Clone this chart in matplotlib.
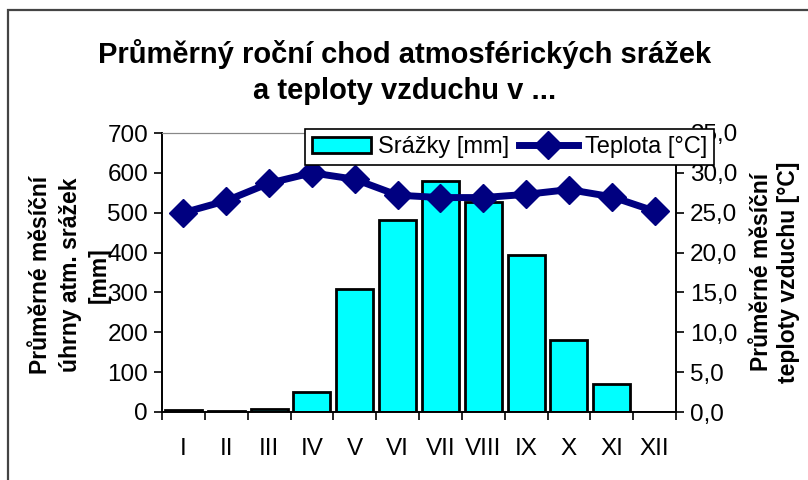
import matplotlib.pyplot as plt
from matplotlib.patches import Rectangle
from matplotlib.lines import Line2D
from matplotlib.ticker import FuncFormatter, MultipleLocator

months = ["I", "II", "III", "IV", "V", "VI", "VII", "VIII", "IX", "X", "XI", "XII"]
srazky = [5, 3, 7, 51, 308, 482, 580, 528, 394, 180, 69, 1]
teplota = [25.0, 26.5, 28.7, 30.0, 29.2, 27.2, 26.9, 26.9, 27.3, 27.9, 27.0, 25.2]

title = "Průměrný roční chod atmosférických srážek\na teploty vzduchu v ..."
left_label = "Průměrné měsíční\núhrny atm. srážek\n[mm]"
right_label = "Průměrné měsíční\nteploty vzduchu [°C]"

plt.rcParams["font.family"] = ["Liberation Sans", "DejaVu Sans"]

W, H = 808, 480
fig = plt.figure(figsize=(W / 100, H / 100), dpi=100)

# outer chart frame (only left/top edges visible in the crop)
fig.patches.append(Rectangle((8 / W, -0.1), 1.2, 1 - 10 / H + 0.1, transform=fig.transFigure,
                             fill=False, edgecolor="#444444", linewidth=1.6))

ax = fig.add_axes([162 / W, 1 - 412 / H, (676 - 162) / W, (412 - 133) / H])
ax2 = ax.twinx()

x = range(len(months))
ax.bar(x, srazky, width=0.86, color="#00FFFF", edgecolor="black", linewidth=2, zorder=2)
ax2.plot(x, teplota, color="#000080", linewidth=5, marker="D", markersize=14, zorder=3)

ax.set_xlim(-0.5, 11.5)
ax.set_ylim(0, 700)
ax2.set_ylim(0, 35)
ax.yaxis.set_major_locator(MultipleLocator(100))
ax2.yaxis.set_major_locator(MultipleLocator(5))
ax2.yaxis.set_major_formatter(FuncFormatter(lambda v, p: f"{v:.1f}".replace(".", ",")))

ax.set_xticks([i + 0.5 for i in range(-1, 12)])
ax.set_xticklabels([])
ax.set_xticks(list(x), minor=True)
ax.set_xticklabels(months, minor=True, fontsize=17.5)
ax.tick_params(axis="x", which="major", direction="out", length=6, width=1.2)
ax.tick_params(axis="x", which="minor", length=0, pad=19)
ax.tick_params(axis="y", direction="out", length=6, width=1.2, labelsize=17.5, pad=4)
ax2.tick_params(axis="y", direction="out", length=6, width=1.2, labelsize=17.5, pad=4)

for a in (ax, ax2):
    a.spines["top"].set_color("#888888")
    a.spines["left"].set_linewidth(1.2)
    a.spines["right"].set_linewidth(1.2)
    a.spines["bottom"].set_linewidth(1.2)

fig.text(405 / W, 1 - 72 / H, title, ha="center", va="center", fontsize=21,
         fontweight="bold", linespacing=1.4)
fig.text(70 / W, 1 - 275 / H, left_label, ha="center", va="center", rotation=90,
         fontsize=16.5, fontweight="bold", linespacing=1.35)
fig.text(775 / W, 1 - 272 / H, right_label, ha="center", va="center", rotation=90,
         fontsize=16.5, fontweight="bold", linespacing=1.25)

# legend sits over the top of the chart and hides part of the 35,0 label, as in the original
handles = [
    Rectangle((0, 0), 1, 1, facecolor="#00FFFF", edgecolor="black", linewidth=2),
    Line2D([], [], color="#000080", linewidth=5, marker="D", markersize=14),
]
leg = fig.legend(handles, ["Srážky [mm]", "Teplota [°C]"], loc="upper left",
                 bbox_to_anchor=(305 / W, 1 - 129 / H), ncol=2, fontsize=17,
                 frameon=True, fancybox=False, edgecolor="black", framealpha=1,
                 borderpad=0.3, handlelength=2.5, columnspacing=0.4, handletextpad=0.3,
                 borderaxespad=0)
leg.get_frame().set_linewidth(1.2)

fig.savefig("out.png", dpi=100)
